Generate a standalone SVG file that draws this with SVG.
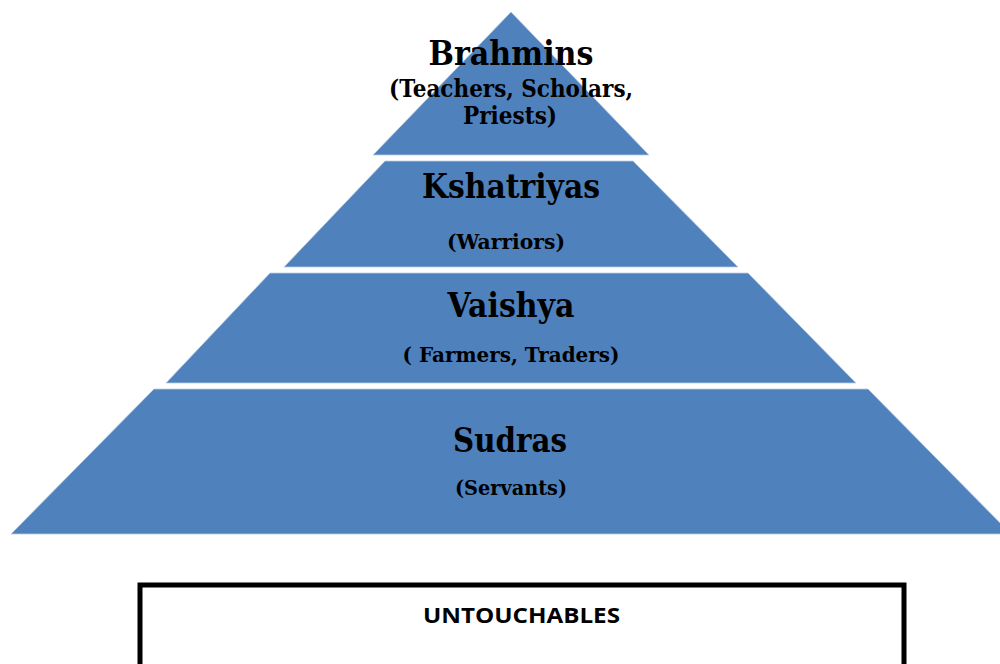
<svg xmlns="http://www.w3.org/2000/svg" width="1000" height="664" viewBox="0 0 1000 664">
<style>
.tier{fill:#4F81BD;stroke:#B9CDE5;stroke-width:0.8}
.t{font-family:"DejaVu Serif","Liberation Serif",serif;font-weight:bold;fill:#000;text-anchor:middle}
.big{font-size:33px}
.sm{font-size:20px}
.mid{font-size:24px}
.box{fill:#fff;stroke:#000;stroke-width:5}
.u{font-family:"Open Sans","Liberation Sans",sans-serif;font-weight:bold;font-size:21px;text-anchor:middle;fill:#000}
</style>
<rect width="1000" height="664" fill="#fff"/>
<g id="brahmins">
<polygon class="tier" points="511,12 649,155 373,155"/>
<text class="t big" x="511" y="65" textLength="165" lengthAdjust="spacingAndGlyphs">Brahmins</text>
<text class="t mid" x="511" y="97" textLength="244" lengthAdjust="spacingAndGlyphs">(Teachers, Scholars,</text>
<text class="t mid" x="510" y="124" textLength="94" lengthAdjust="spacingAndGlyphs">Priests)</text>
</g>
<g id="kshatriyas">
<polygon class="tier" points="385,161 633,161 738,267 284,267"/>
<text class="t big" x="511" y="198" textLength="178" lengthAdjust="spacingAndGlyphs">Kshatriyas</text>
<text class="t sm" x="506" y="249" textLength="118" lengthAdjust="spacingAndGlyphs">(Warriors)</text>
</g>
<g id="vaishya">
<polygon class="tier" points="270,273 748,273 856,383 166,383"/>
<text class="t big" x="511" y="317" textLength="127" lengthAdjust="spacingAndGlyphs">Vaishya</text>
<text class="t sm" x="511" y="362" textLength="217" lengthAdjust="spacingAndGlyphs">( Farmers, Traders)</text>
</g>
<g id="sudras">
<polygon class="tier" points="154,389 868,389 1011,534 11,534"/>
<text class="t big" x="510" y="452" textLength="114" lengthAdjust="spacingAndGlyphs">Sudras</text>
<text class="t sm" x="511" y="495" textLength="112" lengthAdjust="spacingAndGlyphs">(Servants)</text>
</g>
<g id="untouchables">
<rect class="box" x="140" y="585" width="764" height="100"/>
<text class="u" x="521.5" y="623" textLength="197" lengthAdjust="spacingAndGlyphs">UNTOUCHABLES</text>
</g>
<g id="connectors"></g>
</svg>
